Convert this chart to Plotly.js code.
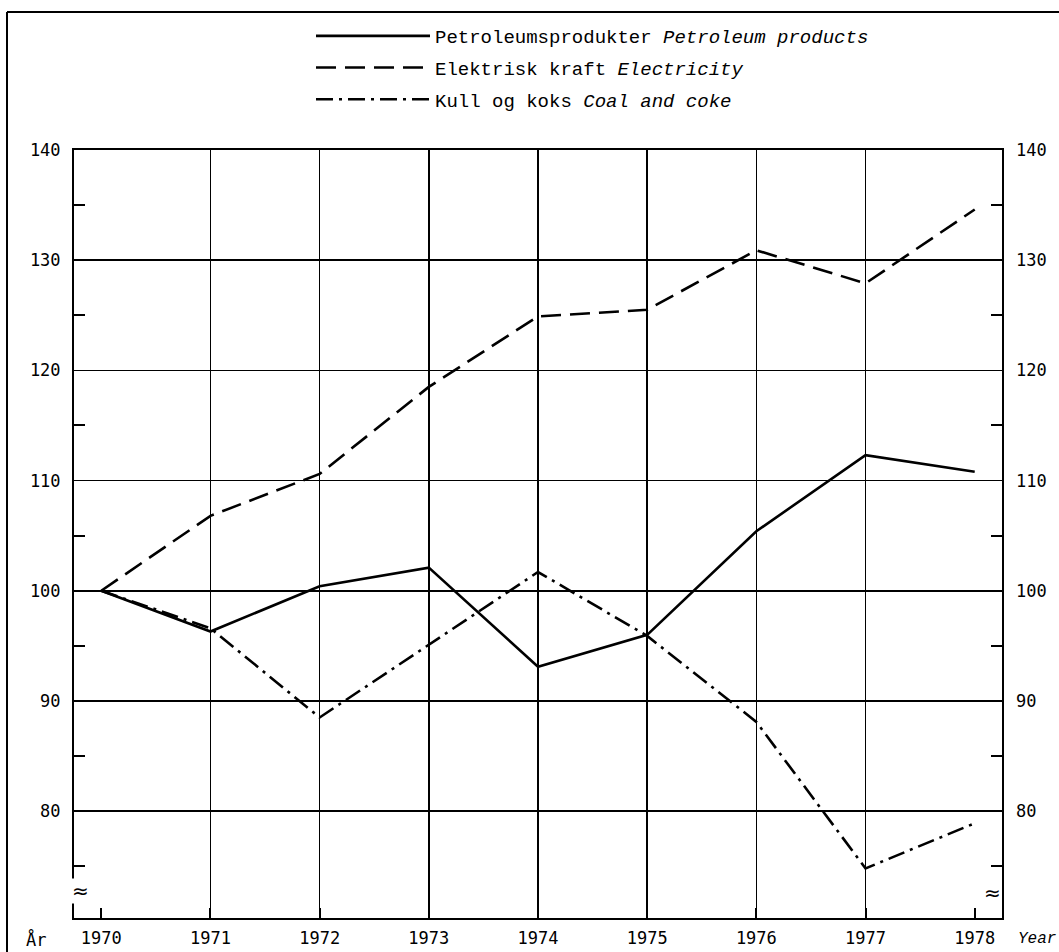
<!DOCTYPE html>
<html>
<head>
<meta charset="utf-8">
<script src="https://cdn.plot.ly/plotly-3.0.1.min.js"></script>
<style>html,body{margin:0;padding:0;background:#fff;}#chart{width:1059px;height:952px;}</style>
</head>
<body>
<div id="chart"></div>
<script>
// ---- data ----
var years = [1970, 1971, 1972, 1973, 1974, 1975, 1976, 1977, 1978];
var petroleum = [100, 96.3, 100.4, 102.1, 93.1, 96.0, 105.4, 112.3, 110.8];
var electricity = [100, 106.8, 110.6, 118.5, 124.9, 125.5, 130.9, 127.9, 134.6];
var coal = [100, 96.6, 88.5, 95.1, 101.7, 95.9, 88.1, 74.8, 78.9];
var seriesNames = [
  'Petroleumsprodukter <i>Petroleum products</i>',
  'Elektrisk kraft <i>Electricity</i>',
  'Kull og koks <i>Coal and coke</i>'
];
var yTickVals = [80, 90, 100, 110, 120, 130, 140];
var yMinorVals = [75, 85, 95, 105, 115, 125, 135];
var xGridVals = [1971, 1972, 1973, 1974, 1975, 1976, 1977];
var xLabel = 'År';
var xLabelEn = 'Year';

var W = 1059, H = 952;
var L = 74, R = 57, T = 150, B = 34;
var pw = W - L - R, ph = H - T - B;
function px(xp) { return (xp - L) / pw; }
function py(yp) { return (H - B - yp) / ph; }

var tickFont = {family: 'DejaVu Sans Mono, monospace', size: 17, color: '#000'};
var lineW = 2.6;

var traces = [
  {x: years, y: petroleum, name: seriesNames[0], type: 'scatter', mode: 'lines', legendgroup: 'a',
   line: {color: '#000', width: lineW, dash: 'solid'}},
  {x: years, y: electricity, name: seriesNames[1], type: 'scatter', mode: 'lines', legendgroup: 'b',
   line: {color: '#000', width: lineW, dash: '20px,9px'}},
  {x: years, y: coal, name: seriesNames[2], type: 'scatter', mode: 'lines', legendgroup: 'c',
   line: {color: '#000', width: lineW, dash: '17px,6px,3px,6px'}}
];

var xr = [1969.75, 1978.25];
var yr = [70.3, 140];

var layout = {
  width: W, height: H,
  margin: {l: L, r: R, t: T, b: B, pad: 0},
  paper_bgcolor: '#fff', plot_bgcolor: '#fff',
  showlegend: true,
  legend: {
    x: px(311), xanchor: 'left', y: py(17), yanchor: 'top',
    font: {family: 'Liberation Mono, monospace', size: 19, color: '#000'},
    itemwidth: 114, bgcolor: 'rgba(0,0,0,0)', borderwidth: 0,
    traceorder: 'grouped', tracegroupgap: 4
  },
  xaxis: {
    range: xr, tickvals: years, ticktext: years.map(String),
    showgrid: false, zeroline: false,
    ticks: 'inside', ticklen: 10, tickwidth: 2, tickcolor: '#000',
    showline: true, linecolor: '#000', linewidth: 2, mirror: true,
    tickfont: tickFont, ticklabelstandoff: 4, fixedrange: true
  },
  xaxis2: {
    range: xr, overlaying: 'x', anchor: 'y', tickvals: xGridVals,
    showgrid: true, gridcolor: '#000', gridwidth: 1.6,
    showticklabels: false, ticks: '', zeroline: false, showline: false
  },
  yaxis: {
    range: yr, tickvals: yTickVals, ticktext: yTickVals.map(String),
    showgrid: true, gridcolor: '#000', gridwidth: 1.6, zeroline: false,
    ticks: '', showline: true, linecolor: '#000', linewidth: 2, mirror: true,
    tickfont: tickFont, ticklabelstandoff: 8,
    minor: {tickvals: yMinorVals, ticks: 'inside', ticklen: 11, tickwidth: 2, tickcolor: '#000', showgrid: false}
  },
  yaxis2: {
    range: yr, overlaying: 'y', side: 'right', anchor: 'x',
    tickvals: yTickVals, ticktext: yTickVals.map(String),
    showgrid: false, zeroline: false, showline: false,
    ticks: '', tickfont: tickFont, ticklabelstandoff: 13,
    minor: {tickvals: yMinorVals, ticks: 'inside', ticklen: 11, tickwidth: 2, tickcolor: '#000', showgrid: false}
  },
  shapes: [
    {type: 'line', xref: 'paper', yref: 'paper', x0: px(7), x1: px(7), y0: py(12), y1: py(H + 2),
     line: {color: '#000', width: 2}},
    {type: 'line', xref: 'paper', yref: 'paper', x0: px(7), x1: px(W + 2), y0: py(12), y1: py(12),
     line: {color: '#000', width: 2}}
  ],
  annotations: [
    {xref: 'paper', yref: 'paper', x: px(24), y: py(939), xanchor: 'left', yanchor: 'middle',
     text: xLabel, showarrow: false, font: tickFont},
    {xref: 'paper', yref: 'paper', x: px(1058), y: py(939), xanchor: 'right', yanchor: 'middle',
     text: '<i>' + xLabelEn + '</i>', showarrow: false,
     font: {family: 'Liberation Mono, monospace', size: 16, color: '#000'}},
    {xref: 'paper', yref: 'paper', x: px(80), y: py(891), xanchor: 'center', yanchor: 'middle',
     text: '≈', showarrow: false, bgcolor: '#fff', borderpad: 0,
     font: {family: 'DejaVu Sans', size: 20, color: '#000'}},
    {xref: 'paper', yref: 'paper', x: px(992), y: py(893), xanchor: 'center', yanchor: 'middle',
     text: '≈', showarrow: false,
     font: {family: 'DejaVu Sans', size: 20, color: '#000'}}
  ]
};

// hidden helper traces so the grid axis (xaxis2) and right axis (yaxis2) are drawn
traces.push({x: [], y: [], xaxis: 'x2', yaxis: 'y', type: 'scatter', mode: 'lines', showlegend: false, hoverinfo: 'skip'});
traces.push({x: [], y: [], xaxis: 'x', yaxis: 'y2', type: 'scatter', mode: 'lines', showlegend: false, hoverinfo: 'skip'});

Plotly.newPlot('chart', traces, layout, {staticPlot: true, displayModeBar: false});
</script>
</body>
</html>
